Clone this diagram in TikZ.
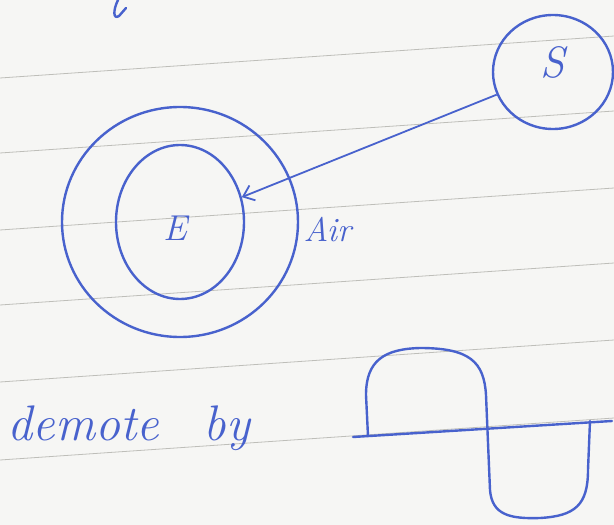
\documentclass[tikz,border=0pt]{standalone}
\usetikzlibrary{arrows.meta,shapes.geometric}
\definecolor{pen}{RGB}{72,98,205}
\definecolor{paper}{RGB}{246,246,244}
\definecolor{rule}{RGB}{190,190,185}
\begin{document}
\begin{tikzpicture}[x=1pt,y=-1pt,
  ink/.style={draw=pen,line width=2.4pt,line cap=round,line join=round},
  hand/.style={text=pen,font=\itshape},
  ruled/.style={draw=rule,line width=0.8pt}]
\fill[paper] (0,0) rectangle (614,525);
\useasboundingbox (0,0) rectangle (614,525);
% ruled lines of the paper
\foreach \y in {78,153,230,305,382,460} {
  \draw[ruled] (0,\y) -- (614,\y-42);
}
% fragment of a letter at the top
\draw[ink] (118,0) .. controls (113,10) and (113,20) .. (119,16) -- (126,8);
% Sun
\node[ink,ellipse,minimum width=120pt,minimum height=114pt] (S) at (553,72) {};
\node[hand,font=\itshape\fontsize{44}{44}\selectfont] (Slab) at (553,62) {S};
% Earth with air layer
\node[ink,ellipse,minimum width=236pt,minimum height=230pt] (A) at (180,222) {};
\node[ink,ellipse,minimum width=128pt,minimum height=154pt] (E) at (180,222) {};
\node[hand,font=\itshape\fontsize{36}{36}\selectfont] (Elab) at (175,228) {E};
\node[hand,font=\itshape\fontsize{34}{34}\selectfont,anchor=west] (air) at (300,230) {Air};
% ray
\draw[draw=pen,line width=1.8pt,-{Straight Barb[length=10pt,width=16pt,line width=1.8pt]}] (S) -- (E);
% bottom text
\node[hand,font=\itshape\fontsize{50}{50}\selectfont,anchor=base west] (dem) at (4,440) {demote};
\node[hand,font=\itshape\fontsize{50}{50}\selectfont,anchor=base west] (by) at (200,440) {by};
% symbol
\coordinate (L1) at (353,437);
\coordinate (L2) at (612,421);
\draw[ink] (L1) -- (L2);
\draw[ink] (368,436) -- (366,395) .. controls (366,360) and (385,349) .. (420,348)
  .. controls (470,348) and (484,362) .. (486,395) -- (490,490)
  .. controls (492,515) and (510,519) .. (540,518)
  .. controls (575,516) and (588,505) .. (588,470) -- (590,421);
\end{tikzpicture}
\end{document}
